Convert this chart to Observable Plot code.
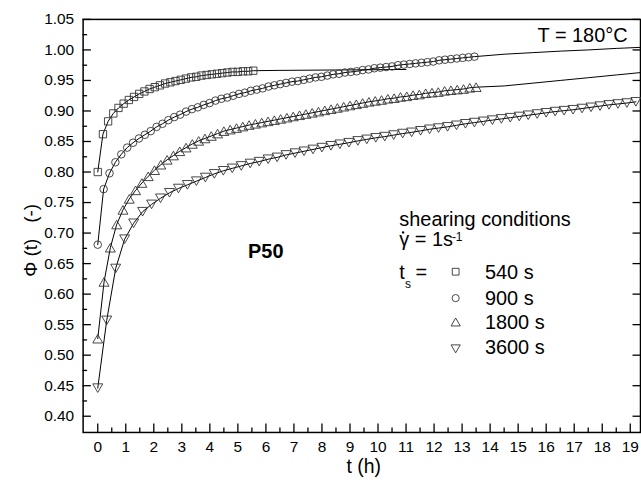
<!DOCTYPE html>
<html><head><meta charset="utf-8">
<script src="https://cdn.jsdelivr.net/npm/d3@7"></script>
<script src="https://cdn.jsdelivr.net/npm/@observablehq/plot@0.6"></script>
<style>
html,body{margin:0;padding:0;background:#fff;overflow:hidden;}
#chart{width:641px;height:480px;overflow:hidden;}
</style></head><body><div id="chart"></div>
<script>
// ---- data ----
const seriesNames = ["540 s", "900 s", "1800 s", "3600 s"];

const tSq = [0,0.185,0.37,0.555,0.74,0.925,1.11,1.295,1.48,1.665,1.85,2.035,2.22,2.405,2.59,2.775,2.96,3.145,3.33,3.515,3.70,3.885,4.07,4.255,4.44,4.625,4.81,4.995,5.18,5.365,5.55];
const phiSq = [0.800,0.862,0.883,0.896,0.905,0.912,0.918,0.923,0.928,0.932,0.936,0.939,0.942,0.945,0.947,0.949,0.951,0.953,0.955,0.956,0.958,0.959,0.960,0.961,0.962,0.963,0.964,0.964,0.965,0.965,0.966];
const tSqFitExt = [6.5, 8, 9.5, 11];
const phiSqFitExt = [0.9665, 0.967, 0.9675, 0.968];

const tCi = [0,0.21,0.42,0.63,0.84,1.05,1.26,1.47,1.68,1.89,2.1,2.31,2.52,2.73,2.94,3.15,3.36,3.57,3.78,3.99,4.2,4.41,4.62,4.83,5.04,5.25,5.46,5.67,5.88,6.09,6.3,6.51,6.72,6.93,7.14,7.35,7.56,7.77,7.98,8.19,8.4,8.61,8.82,9.03,9.24,9.45,9.66,9.87,10.08,10.29,10.5,10.71,10.92,11.13,11.34,11.55,11.76,11.97,12.18,12.39,12.6,12.81,13.02,13.23,13.44];
const phiCi = [0.681,0.772,0.798,0.816,0.829,0.840,0.848,0.855,0.861,0.867,0.874,0.879,0.885,0.890,0.894,0.899,0.903,0.906,0.910,0.913,0.917,0.920,0.922,0.925,0.928,0.930,0.933,0.935,0.937,0.940,0.942,0.944,0.946,0.948,0.949,0.951,0.953,0.955,0.956,0.958,0.960,0.961,0.963,0.964,0.965,0.967,0.968,0.970,0.971,0.972,0.973,0.975,0.976,0.977,0.978,0.979,0.980,0.981,0.983,0.984,0.985,0.986,0.987,0.988,0.989];
const tCiFitExt = [14.5, 15.5, 16.5, 17.5, 18.5, 19.5];
const phiCiFitExt = [0.993, 0.9955, 0.998, 1.000, 1.0025, 1.0045];

const tUp = [0,0.225,0.45,0.675,0.9,1.125,1.35,1.575,1.8,2.025,2.25,2.475,2.7,2.925,3.15,3.375,3.6,3.825,4.05,4.275,4.5,4.725,4.95,5.175,5.4,5.625,5.85,6.075,6.3,6.525,6.75,6.975,7.2,7.425,7.65,7.875,8.1,8.325,8.55,8.775,9.0,9.225,9.45,9.675,9.9,10.125,10.35,10.575,10.8,11.025,11.25,11.475,11.7,11.925,12.15,12.375,12.6,12.825,13.05,13.275,13.5];
const phiUp = [0.527,0.620,0.676,0.714,0.738,0.756,0.770,0.782,0.793,0.803,0.812,0.820,0.827,0.834,0.840,0.846,0.851,0.855,0.859,0.863,0.867,0.8695,0.872,0.8745,0.877,0.879,0.881,0.883,0.885,0.887,0.889,0.891,0.893,0.895,0.897,0.899,0.901,0.903,0.905,0.907,0.909,0.911,0.913,0.915,0.9165,0.918,0.920,0.921,0.923,0.924,0.926,0.927,0.929,0.930,0.931,0.933,0.934,0.935,0.936,0.938,0.939];
const tUpFitExt = [14.5, 15.5, 16.5, 17.5, 18.5, 19.5];
const phiUpFitExt = [0.941, 0.9455, 0.950, 0.9545, 0.959, 0.9635];

const tDn = [0,0.32,0.64,0.96,1.28,1.6,1.92,2.24,2.56,2.88,3.2,3.52,3.84,4.16,4.48,4.8,5.12,5.44,5.76,6.08,6.4,6.72,7.04,7.36,7.68,8.0,8.32,8.64,8.96,9.28,9.6,9.92,10.24,10.56,10.88,11.2,11.52,11.84,12.16,12.48,12.8,13.12,13.44,13.76,14.08,14.4,14.72,15.04,15.36,15.68,16.0,16.32,16.64,16.96,17.28,17.6,17.92,18.24,18.56,18.88,19.2];
const phiDn = [0.446,0.557,0.642,0.690,0.716,0.735,0.747,0.757,0.766,0.773,0.779,0.785,0.791,0.797,0.802,0.806,0.810,0.814,0.817,0.821,0.824,0.828,0.831,0.834,0.837,0.840,0.843,0.8455,0.848,0.851,0.8535,0.856,0.858,0.8605,0.863,0.865,0.8675,0.870,0.872,0.874,0.8765,0.879,0.881,0.883,0.885,0.887,0.889,0.891,0.893,0.895,0.897,0.899,0.9005,0.902,0.904,0.906,0.908,0.910,0.9115,0.913,0.915];
const tDnFitExt = [];
const phiDnFitExt = [];

const xTicks = d3.range(0, 20);
const xMinorTicks = d3.range(0.5, 19, 1);
const yTicks = d3.range(8, 22).map(i => +(i * 0.05).toFixed(2));
const yMinorTicks = d3.range(8, 21).map(i => +(i * 0.05 + 0.025).toFixed(3));

// ---- symbols ----
const symSquare = {draw(c, size) { const r = Math.sqrt(size / Math.PI), h = 0.92 * r;
  c.moveTo(-h, -h); c.lineTo(h, -h); c.lineTo(h, h); c.lineTo(-h, h); c.closePath(); }};
const symUp = {draw(c, size) { const r = Math.sqrt(size / Math.PI), w = 1.25 * r, h = 1.08 * r;
  c.moveTo(0, -h); c.lineTo(w, h); c.lineTo(-w, h); c.closePath(); }};
const symDown = {draw(c, size) { const r = Math.sqrt(size / Math.PI), w = 1.25 * r, h = 1.08 * r;
  c.moveTo(0, h); c.lineTo(w, -h); c.lineTo(-w, -h); c.closePath(); }};

const series = [
  {name: seriesNames[0], t: tSq, phi: phiSq, te: tSqFitExt, pe: phiSqFitExt, symbol: symSquare},
  {name: seriesNames[1], t: tCi, phi: phiCi, te: tCiFitExt, pe: phiCiFitExt, symbol: "circle"},
  {name: seriesNames[2], t: tUp, phi: phiUp, te: tUpFitExt, pe: phiUpFitExt, symbol: symUp},
  {name: seriesNames[3], t: tDn, phi: phiDn, te: tDnFitExt, pe: phiDnFitExt, symbol: symDown}
];
const fits = series.flatMap(s => d3.zip(s.t.concat(s.te), s.phi.concat(s.pe)).map(([t, phi]) => ({series: s.name, t, phi})));

const W = 644, H = 480, mL = 83, mR = 1, mT = 19, mB = 46;
const plotW = W - mL - mR, plotH = H - mT - mB;
const FONT = "'Liberation Sans', Arial, sans-serif";
const markStroke = "#333";
const txt = (s, o) => Plot.text([s], {text: d => d, lineAnchor: "middle", fill: "#000", fontFamily: FONT, ...o});

const marks = [
  Plot.frame({stroke: "#000", strokeWidth: 1.5}),
  // ticks (inward)
  Plot.ruleX(xTicks, {x: d => d, stroke: "#000", strokeWidth: 1.3, insetTop: plotH - 8.5}),
  Plot.ruleX(xMinorTicks, {x: d => d, stroke: "#000", strokeWidth: 1.3, insetTop: plotH - 4.5}),
  Plot.ruleY(yTicks, {y: d => d, stroke: "#000", strokeWidth: 1.3, insetRight: plotW - 8.3}),
  Plot.ruleY(yMinorTicks, {y: d => d, stroke: "#000", strokeWidth: 1.3, insetRight: plotW - 4.5}),
  Plot.ruleY(yTicks, {y: d => d, stroke: "#000", strokeWidth: 1.3, insetLeft: plotW - 7.5}),
  // tick labels
  Plot.text(xTicks, {x: d => d, text: d => String(d), frameAnchor: "bottom", lineAnchor: "middle", textAnchor: "middle", dy: 15, fontSize: 15.5, fill: "#000", fontFamily: FONT}),
  Plot.text(yTicks, {y: d => d, text: d => d.toFixed(2), frameAnchor: "left", lineAnchor: "middle", textAnchor: "end", dx: -9, fontSize: 15.5, fill: "#000", fontFamily: FONT}),
  // axis labels
  txt("t (h)", {frameAnchor: "bottom", textAnchor: "middle", dx: 2, dy: 34.5, fontSize: 19.5}),
  txt("\u03A6 (t)\u00a0\u00a0\u00a0(-)", {frameAnchor: "left", textAnchor: "middle", rotate: -90, dx: -52, dy: 14.5, fontSize: 19}),
  // fits
  Plot.line(fits, {x: "t", y: "phi", z: "series", stroke: "#000", strokeWidth: 1}),
];
for (const s of series) {
  const pts = d3.zip(s.t, s.phi).map(([t, phi]) => ({t, phi}));
  marks.push(Plot.dot(pts, {x: "t", y: "phi", symbol: s.symbol, r: s.symbol === "circle" ? 3.8 : 4, stroke: markStroke, strokeWidth: 0.9, fill: "none"}));
}
// annotations
marks.push(
  txt("T = 180\u00b0C", {frameAnchor: "top-right", textAnchor: "end", dx: -13, dy: 16.3, fontSize: 20}),
  txt("P50", {frameAnchor: "top-left", textAnchor: "middle", dx: 183.5, dy: 233.6, fontSize: 20, fontWeight: "bold"}),
  txt("shearing conditions", {frameAnchor: "top-left", textAnchor: "start", dx: 317.7, dy: 201.3, fontSize: 20}),
  txt("\u03B3 = 1s", {frameAnchor: "top-left", textAnchor: "start", dx: 317.7, dy: 221.3, fontSize: 20}),
  Plot.dot([0], {frameAnchor: "top-left", dx: 321.5, dy: 214, r: 1.2, fill: "#000", stroke: "none"}),
  txt("-1", {frameAnchor: "top-left", textAnchor: "start", dx: 370.5, dy: 219.2, fontSize: 12}),
  txt("t", {frameAnchor: "top-left", textAnchor: "start", dx: 317.7, dy: 254.6, fontSize: 20}),
  txt("s", {frameAnchor: "top-left", textAnchor: "start", dx: 323.5, dy: 265.7, fontSize: 12}),
  txt("=", {frameAnchor: "top-left", textAnchor: "start", dx: 334, dy: 254.6, fontSize: 20})
);
const legendSymDy = [253.5, 280, 304, 331];
const legendTextDy = [254.6, 280.6, 304.6, 329.6];
series.forEach((s, i) => {
  marks.push(Plot.dot([0], {frameAnchor: "top-left", dx: 374.3, dy: legendSymDy[i], symbol: s.symbol, r: s.symbol === "circle" ? 3.6 : 3.7, stroke: markStroke, strokeWidth: 0.9, fill: "none"}));
  marks.push(txt(s.name, {frameAnchor: "top-left", textAnchor: "start", dx: 403.7, dy: legendTextDy[i], fontSize: 20}));
});

const chart = Plot.plot({
  width: W, height: H,
  marginLeft: mL, marginRight: mR, marginTop: mT, marginBottom: mB,
  style: {fontFamily: FONT, background: "#fff", color: "#000"},
  x: {domain: [-0.522, 19.365], axis: null},
  y: {domain: [0.3734, 1.05], axis: null},
  marks
});
document.getElementById("chart").appendChild(chart);
</script></body></html>
